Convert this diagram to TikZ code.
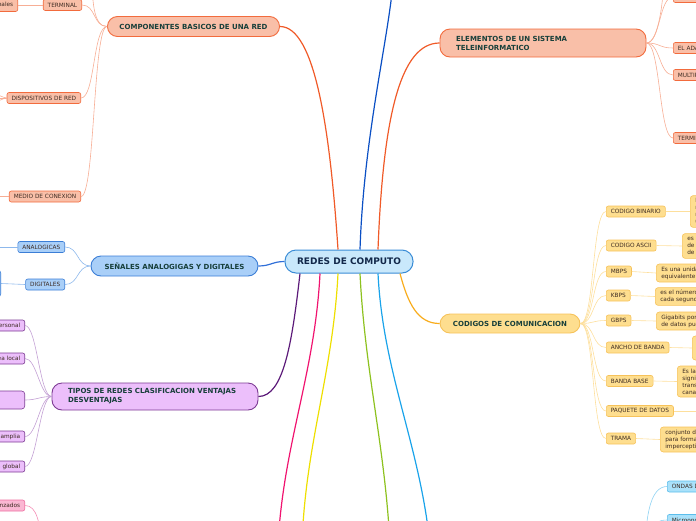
\documentclass[tikz,border=0pt]{standalone}
\usepackage{fontspec}
\setmainfont{DejaVu Sans}
\usetikzlibrary{positioning}
\usepackage{xcolor}
\definecolor{mmrootfill}{HTML}{C9E8FB}
\definecolor{mmrootline}{HTML}{3A8CD6}
\definecolor{mmrootink}{HTML}{12284A}
\definecolor{mmbranchink}{HTML}{173F3A}
\definecolor{mmleafink}{HTML}{3D2B22}
\definecolor{salmonfill}{HTML}{F9BFA8}
\definecolor{salmonline}{HTML}{F26B3D}
\definecolor{bluefill}{HTML}{A9CFF8}
\definecolor{blueline}{HTML}{3B7ED6}
\definecolor{purplefill}{HTML}{ECBFFB}
\definecolor{purpleline}{HTML}{7D3B94}
\definecolor{goldfill}{HTML}{FEDE8F}
\definecolor{goldline}{HTML}{F6C25A}
\definecolor{skyfill}{HTML}{A9E1FA}
\definecolor{skyline}{HTML}{5BBDEB}
\definecolor{pinkfill}{HTML}{FBB7D3}
\definecolor{pinkline}{HTML}{EE6FA0}
\definecolor{mmred}{HTML}{F05A28}
\definecolor{mmnavy}{HTML}{0A4FC4}
\definecolor{mmblue}{HTML}{2F6FD8}
\definecolor{mmpurple}{HTML}{5C1A79}
\definecolor{mmpink}{HTML}{F0136F}
\definecolor{mmyellow}{HTML}{EEDF00}
\definecolor{mmgreen}{HTML}{8DC21F}
\definecolor{mmsky}{HTML}{1AA3EA}
\definecolor{mmgold}{HTML}{F8AC1C}
\definecolor{twigsalmon}{HTML}{F7AE95}
\definecolor{twigblue}{HTML}{8DB8EC}
\definecolor{twigpurple}{HTML}{C3A0D4}
\definecolor{twiggold}{HTML}{FDDF9C}
\definecolor{twigsky}{HTML}{8FD3F3}
\definecolor{twigpink}{HTML}{F48DB6}
\tikzset{
    root/.style={
        draw=mmrootline,line width=1pt,fill=mmrootfill,rounded corners=11pt,
        minimum width=128pt,minimum height=23pt,text=mmrootink,
        font=\fontsize{9}{11}\selectfont\bfseries
    },
    branch/.style={
        draw=#1line,line width=0.9pt,fill=#1fill,rounded corners=10pt,
        minimum height=20pt,inner xsep=12pt,text=mmbranchink,
        font=\fontsize{7}{9}\selectfont\bfseries
    },
    leaf/.style={
        draw=#1line,line width=0.6pt,fill=#1fill,rounded corners=2pt,
        minimum height=11pt,inner xsep=4.5pt,inner ysep=1pt,text=mmleafink,
        font=\fontsize{5.8}{7}\selectfont
    },
    note/.style={
        leaf=#1,align=left,inner xsep=5pt,inner ysep=2.5pt,rounded corners=3pt
    },
    trunk/.style={draw=#1,line width=1.2pt},
    twig/.style={draw=#1,line width=0.6pt}
}
\begin{document}
\begin{tikzpicture}[x=1pt,y=-1pt]
\useasboundingbox (0,0) rectangle (696,520);
\clip (0,0) rectangle (696,520);

\node[root] (root) at (349,261.5) {REDES DE COMPUTO};

\node[branch=salmon,minimum width=171pt] (comp) at (193.5,26.5) {COMPONENTES BASICOS DE UNA RED};
\node[branch=salmon,text width=174pt,align=left,inner xsep=16pt,minimum height=28pt]
  (elem) at (543,43) {ELEMENTOS DE UN SISTEMA\\TELEINFORMATICO};
\node[branch=blue,minimum width=167pt] (senal) at (174.5,266) {SEÑALES ANALOGIGAS Y DIGITALES};
\node[branch=purple,text width=174pt,align=left,inner xsep=16pt,minimum height=27pt]
  (tipos) at (155,396.5) {TIPOS DE REDES CLASIFICACION VENTAJAS\\DESVENTAJAS};
\node[branch=gold,minimum width=140pt,minimum height=19pt] (cod) at (510,323.5) {CODIGOS DE COMUNICACION};

\node[leaf=salmon,anchor=east] (term) at (82,5) {TERMINAL};
\node[leaf=salmon,anchor=east,minimum height=13pt] (pc) at (18,5) {Computadoras personales};
\node[leaf=salmon,anchor=east] (disp) at (81,98) {DISPOSITIVOS DE RED};
\node[leaf=salmon,anchor=east] (medio) at (81,196.5) {MEDIO DE CONEXION};
\coordinate (compup) at (92,-30);
\coordinate (dispa) at (-25,84);
\coordinate (dispb) at (-25,98);
\coordinate (dispc) at (-25,112);
\coordinate (medioend) at (-20,196.5);

\node[leaf=salmon,anchor=west] (modem) at (673,-3) {EL MODEM};
\node[leaf=salmon,anchor=west] (adap) at (673,48) {EL ADAPTADOR DE COMUNICACIONES};
\node[leaf=salmon,anchor=west] (multi) at (673,75) {MULTIPLEXOR};
\node[leaf=salmon,anchor=west] (termi) at (673,138) {TERMINALES};
\coordinate (elemup) at (664,-30);

\node[leaf=blue,anchor=east] (anal) at (65,247) {ANALOGICAS};
\node[leaf=blue,anchor=east] (digi) at (65,284.5) {DIGITALES};
\node[note=blue,anchor=east,minimum height=27pt] (digitxt) at (1,283.5) {Señales discretas\\de valores 0 y 1};
\coordinate (analend) at (-20,247);

\node[leaf=purple,anchor=east] (pan) at (25,325.5) {Red de área personal};
\node[leaf=purple,anchor=east] (lan) at (25,358.5) {Red de área local};
\node[note=purple,anchor=east,text width=80pt,minimum height=18pt] (man) at (25,400) {Red de área\\metropolitana};
\node[leaf=purple,anchor=east] (wan) at (25,436.5) {Red de área amplia};
\node[leaf=purple,anchor=east] (gan) at (25,466.5) {Red de área global};

\node[leaf=pink,anchor=east] (trenz) at (25,505.5) {Cables trenzados};
\coordinate (pinkhub) at (42,548);
\coordinate (pinkend) at (278,545);
\coordinate (yellowend) at (302,545);
\coordinate (greenend) at (390,545);
\coordinate (skyend) at (430,545);
\coordinate (upend) at (394,-30);

\node[leaf=sky,anchor=west] (ondas) at (667,486.5) {ONDAS DE RADIO};
\node[leaf=sky,anchor=west] (micro) at (667,520) {Microondas};
\coordinate (skyhub) at (645,560);

\node[leaf=gold,anchor=west] (bin) at (606,211.5) {CODIGO BINARIO};
\node[leaf=gold,anchor=west] (ascii) at (606,245.5) {CODIGO ASCII};
\node[leaf=gold,anchor=west] (mbps) at (606,271.5) {MBPS};
\node[leaf=gold,anchor=west] (kbps) at (606,295.5) {KBPS};
\node[leaf=gold,anchor=west] (gbps) at (606,320.5) {GBPS};
\node[leaf=gold,anchor=west] (ancho) at (606,347.5) {ANCHO DE BANDA};
\node[leaf=gold,anchor=west] (bbase) at (606,381) {BANDA BASE};
\node[leaf=gold,anchor=west] (paq) at (606,411) {PAQUETE DE DATOS};
\node[leaf=gold,anchor=west] (trama) at (606,438.5) {TRAMA};

\node[note=gold,anchor=west,minimum height=31pt] (bintxt) at (690,211.5)
  {Es un sistema de numeración\\representado solo con dos\\rangos de valores, los\\unos y los ceros};
\node[note=gold,anchor=west,minimum height=24pt] (asciitxt) at (682,246)
  {es un código de caracteres\\de ocho bits basado en el alfabeto\\de la lengua inglesa};
\node[note=gold,anchor=west,minimum height=18pt] (mbpstxt) at (656,273)
  {Es una unidad de medida de transmisión\\equivalente a 1.000 kilobits por segundo};
\node[note=gold,anchor=west,minimum height=17pt] (kbpstxt) at (655,296.5)
  {es el número de kilobits transmitidos\\cada segundo};
\node[note=gold,anchor=west,minimum height=18pt] (gbpstxt) at (656,321)
  {Gigabits por segundo, cantidad\\de datos puede transmitirse};
\node[note=gold,anchor=west,minimum height=24pt] (anchotxt) at (692,348)
  {Cantidad de información\\que puede fluir por una\\conexión};
\node[note=gold,anchor=west,minimum height=31pt] (bbasetxt) at (677,381.5)
  {Es la señal de una sola frecuencia\\significa que la señal se\\transmite directamente por el\\canal};
\node[note=gold,anchor=west] (paqtxt) at (705,411) {Unidad de datos que viaja por la red};
\node[note=gold,anchor=west,minimum height=25pt] (tramatxt) at (660,439.5)
  {conjunto de imágenes\\para formar una secuencia\\imperceptible al ojo};

\draw[trunk=mmred] ([xshift=-11pt]root.north) .. controls +(-8,-120) and +(35,0) .. (comp.east);
\draw[trunk=mmnavy] ([xshift=11pt]root.north) .. controls +(4,-120) and +(-3,60) .. (upend);
\draw[trunk=mmred] ([xshift=29pt]root.north) .. controls +(5,-130) and +(-40,0) .. (elem.west);
\draw[trunk=mmblue] (root.west) .. controls +(-12,0) and +(12,0) .. (senal.east);
\draw[trunk=mmpurple] ([xshift=-49pt]root.south) .. controls +(-8,70) and +(25,0) .. (tipos.east);
\draw[trunk=mmpink] ([xshift=-29pt]root.south) .. controls +(-5,100) and +(5,-100) .. (pinkend);
\draw[trunk=mmyellow] ([xshift=-11pt]root.south) .. controls +(-5,100) and +(3,-100) .. (yellowend);
\draw[trunk=mmgreen] ([xshift=11pt]root.south) .. controls +(5,100) and +(-5,-100) .. (greenend);
\draw[trunk=mmsky] ([xshift=29pt]root.south) .. controls +(5,100) and +(-10,-100) .. (skyend);
\draw[trunk=mmgold] ([xshift=51pt]root.south) .. controls +(8,30) and +(-22,0) .. (cod.west);

\draw[twig=twigsalmon] (comp.west) .. controls +(-14,0) and +(0,30) .. (compup);
\draw[twig=twigsalmon] (comp.west) .. controls +(-14,0) and +(14,0) .. (term.east);
\draw[twig=twigsalmon] (comp.west) .. controls +(-14,0) and +(14,0) .. (disp.east);
\draw[twig=twigsalmon] (comp.west) .. controls +(-14,0) and +(14,0) .. (medio.east);
\draw[twig=twigsalmon] (term.west) -- (pc.east);
\draw[twig=twigsalmon] (disp.west) .. controls +(-6,0) and +(6,0) .. (dispa);
\draw[twig=twigsalmon] (disp.west) -- (dispb);
\draw[twig=twigsalmon] (disp.west) .. controls +(-6,0) and +(6,0) .. (dispc);
\draw[twig=twigsalmon] (medio.west) -- (medioend);

\draw[twig=twigsalmon] (elem.east) .. controls +(12,0) and +(0,30) .. (elemup);
\draw[twig=twigsalmon] (elem.east) .. controls +(14,0) and +(-14,0) .. (modem.west);
\draw[twig=twigsalmon] (elem.east) .. controls +(14,0) and +(-14,0) .. (adap.west);
\draw[twig=twigsalmon] (elem.east) .. controls +(14,0) and +(-14,0) .. (multi.west);
\draw[twig=twigsalmon] (elem.east) .. controls +(14,0) and +(-14,0) .. (termi.west);

\draw[twig=twigblue] (senal.west) .. controls +(-14,0) and +(14,0) .. (anal.east);
\draw[twig=twigblue] (senal.west) .. controls +(-14,0) and +(14,0) .. (digi.east);
\draw[twig=twigblue] (anal.west) -- (analend);
\draw[twig=twigblue] (digi.west) -- (digitxt.east);

\draw[twig=twigpurple] (tipos.west) .. controls +(-12,0) and +(12,0) .. (pan.east);
\draw[twig=twigpurple] (tipos.west) .. controls +(-12,0) and +(12,0) .. (lan.east);
\draw[twig=twigpurple] (tipos.west) .. controls +(-12,0) and +(12,0) .. (man.east);
\draw[twig=twigpurple] (tipos.west) .. controls +(-12,0) and +(12,0) .. (wan.east);
\draw[twig=twigpurple] (tipos.west) .. controls +(-12,0) and +(12,0) .. (gan.east);

\draw[twig=twigpink] (trenz.east) .. controls +(12,0) and +(-2,-25) .. (pinkhub);

\draw[twig=twigsky] (skyhub) .. controls +(0,-50) and +(-15,0) .. (ondas.west);
\draw[twig=twigsky] (skyhub) .. controls +(0,-30) and +(-15,0) .. (micro.west);

\draw[twig=twiggold] (cod.east) .. controls +(14,0) and +(-14,0) .. (bin.west);
\draw[twig=twiggold] (cod.east) .. controls +(14,0) and +(-14,0) .. (ascii.west);
\draw[twig=twiggold] (cod.east) .. controls +(14,0) and +(-14,0) .. (mbps.west);
\draw[twig=twiggold] (cod.east) .. controls +(14,0) and +(-14,0) .. (kbps.west);
\draw[twig=twiggold] (cod.east) .. controls +(14,0) and +(-14,0) .. (gbps.west);
\draw[twig=twiggold] (cod.east) .. controls +(14,0) and +(-14,0) .. (ancho.west);
\draw[twig=twiggold] (cod.east) .. controls +(14,0) and +(-14,0) .. (bbase.west);
\draw[twig=twiggold] (cod.east) .. controls +(14,0) and +(-14,0) .. (paq.west);
\draw[twig=twiggold] (cod.east) .. controls +(14,0) and +(-14,0) .. (trama.west);
\draw[twig=twiggold] (bin.east) -- (bintxt.west);
\draw[twig=twiggold] (ascii.east) -- (asciitxt.west);
\draw[twig=twiggold] (mbps.east) -- (mbpstxt.west);
\draw[twig=twiggold] (kbps.east) -- (kbpstxt.west);
\draw[twig=twiggold] (gbps.east) -- (gbpstxt.west);
\draw[twig=twiggold] (ancho.east) -- (anchotxt.west);
\draw[twig=twiggold] (bbase.east) -- (bbasetxt.west);
\draw[twig=twiggold] (paq.east) -- (paqtxt.west);
\draw[twig=twiggold] (trama.east) -- (tramatxt.west);

\end{tikzpicture}
\end{document}
